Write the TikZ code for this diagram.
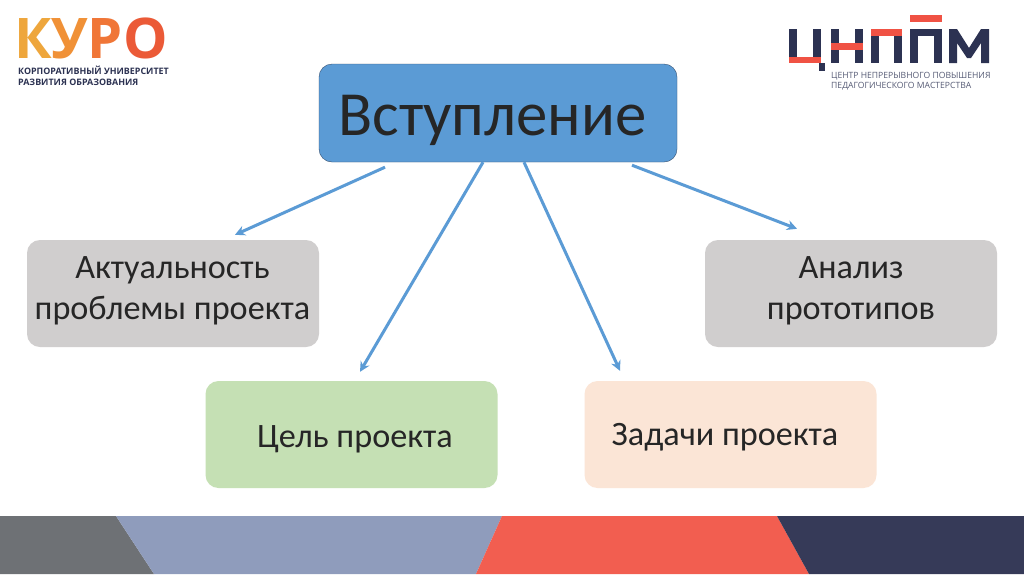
\documentclass[tikz,border=0pt]{standalone}
\usepackage{fontspec}
\setmainfont{Carlito}
\newfontfamily\logofont{Open Sans}
\usetikzlibrary{arrows.meta}
\definecolor{introfill}{RGB}{91, 155, 213}
\definecolor{introline}{RGB}{52, 78, 110}
\definecolor{greyfill}{RGB}{208, 206, 206}
\definecolor{greenfill}{RGB}{197, 224, 180}
\definecolor{peachfill}{RGB}{251, 229, 214}
\definecolor{linkblue}{RGB}{91, 155, 213}
\definecolor{bandgrey}{RGB}{110, 113, 117}
\definecolor{bandblue}{RGB}{143, 156, 188}
\definecolor{bandred}{RGB}{242, 94, 80}
\definecolor{bandnavy}{RGB}{54, 58, 88}
\definecolor{logonavy}{RGB}{44, 50, 82}
\definecolor{logored}{RGB}{240, 82, 68}
\tikzset{
    x=1pt, y=-1pt,
    topicbox/.style={rounded corners=13pt, minimum width=292pt, minimum height=107pt},
    topictext/.style={align=center, inner sep=0pt, font=\fontsize{34.2}{41}\selectfont, text=black!85},
    link/.style={draw=linkblue, line width=3pt, -{Stealth[length=10pt, width=10pt]}},
    logoline/.style={font=\logofont\bfseries\fontsize{8.9}{10}\selectfont, text=logonavy, anchor=west, inner sep=0pt},
    logosub/.style={font=\logofont\fontsize{8.6}{9}\selectfont, text=logonavy!80, anchor=west, inner sep=0pt},
}
\begin{document}
\begin{tikzpicture}
    \useasboundingbox (0, 0) rectangle (1024, 574);
    \fill[white] (0, 0) rectangle (1024, 574);
    % bottom band
    \fill[bandgrey] (0, 516) -- (116, 516) -- (154, 574) -- (0, 574) -- cycle;
    \fill[bandblue] (116, 516) -- (502, 516) -- (476, 574) -- (154, 574) -- cycle;
    \fill[bandred] (502, 516) -- (777, 516) -- (809, 574) -- (476, 574) -- cycle;
    \fill[bandnavy] (777, 516) -- (1024, 516) -- (1024, 574) -- (809, 574) -- cycle;
    % left logo
    \node[anchor=west, inner sep=0pt, text height=39pt, text depth=0pt,
        font=\logofont\bfseries\fontsize{56}{56}\selectfont] (kuro) at (14.5, 39)
        {\textcolor[RGB]{238, 166, 60}{К}\kern-1pt\textcolor[RGB]{240, 145, 55}{У}\textcolor[RGB]{240, 118, 55}{Р}\textcolor[RGB]{235, 90, 55}{О}};
    \node[logoline] (kurotop) at (18, 70) {КОРПОРАТИВНЫЙ УНИВЕРСИТЕТ};
    \node[logoline] (kurobot) at (18, 82) {РАЗВИТИЯ ОБРАЗОВАНИЯ};
    % right logo
    \fill[logonavy] (789, 29) rectangle (797, 63);
    \fill[logonavy] (813, 29) rectangle (821, 63);
    \fill[logonavy] (819, 63) rectangle (825, 71);
    \fill[logored] (789, 57) rectangle (821, 63);
    \fill[logonavy] (831, 29) rectangle (839, 63);
    \fill[logonavy] (855, 29) rectangle (863, 63);
    \fill[logored] (831, 43) rectangle (863, 50);
    \fill[logonavy] (871, 29) rectangle (879, 63);
    \fill[logonavy] (894, 29) rectangle (902, 63);
    \fill[logored] (871, 29) rectangle (902, 36);
    \fill[logonavy] (910, 29) rectangle (918, 63);
    \fill[logonavy] (934, 29) rectangle (942, 63);
    \fill[logonavy] (910, 29) rectangle (942, 36);
    \fill[logored] (910, 15) rectangle (942, 22);
    \fill[logonavy] (949, 63) -- (949, 29) -- (957, 29) -- (969, 48) -- (981, 29) -- (989, 29)
        -- (989, 63) -- (981, 63) -- (981, 43) -- (971, 58) -- (967, 58) -- (957, 43) -- (957, 63) -- cycle;
    \node[logosub] (cnppmtop) at (831, 76.5) {ЦЕНТР НЕПРЕРЫВНОГО ПОВЫШЕНИЯ};
    \node[logosub] (cnppmbot) at (831, 86.5) {ПЕДАГОГИЧЕСКОГО МАСТЕРСТВА};
    % boxes
    \node[draw=introline, fill=introfill, rounded corners=13pt, minimum width=358pt, minimum height=98pt] (intro) at (498, 113) {};
    \node[topicbox, fill=greyfill] (topicality) at (173, 293.5) {};
    \node[topicbox, fill=greyfill] (analysis) at (851, 293.5) {};
    \node[topicbox, fill=greenfill] (goal) at (351.5, 434.5) {};
    \node[topicbox, fill=peachfill] (tasks) at (730.5, 434.5) {};
    % texts
    \node[inner sep=0pt, font=\fontsize{62.8}{62}\selectfont, text=black!85] (introtext) at ([xshift=-5.5pt, yshift=-7pt]intro.center) {Вступление};
    \node[topictext] (topicalitytext) at ([xshift=-0.5pt, yshift=2.5pt]topicality.center) {Актуальность\\проблемы проекта};
    \node[topictext] (analysistext) at ([yshift=2.5pt]analysis.center) {Анализ\\прототипов};
    \node[topictext] (goaltext) at ([xshift=3.5pt, yshift=-5pt]goal.center) {Цель проекта};
    \node[topictext] (taskstext) at ([xshift=-5.5pt, yshift=-3pt]tasks.center) {Задачи проекта};
    % arrows
    \draw[link] ([xshift=-113pt, yshift=-5pt]intro.south) -- ([xshift=62pt, yshift=5pt]topicality.north);
    \draw[link] ([xshift=-15pt]intro.south) -- ([xshift=8.5pt, yshift=9pt]goal.north);
    \draw[link] ([xshift=26pt]intro.south) -- ([xshift=-110.5pt, yshift=10pt]tasks.north);
    \draw[link] ([xshift=134pt, yshift=-3pt]intro.south) -- ([xshift=-54pt, yshift=11pt]analysis.north);
\end{tikzpicture}
\end{document}
